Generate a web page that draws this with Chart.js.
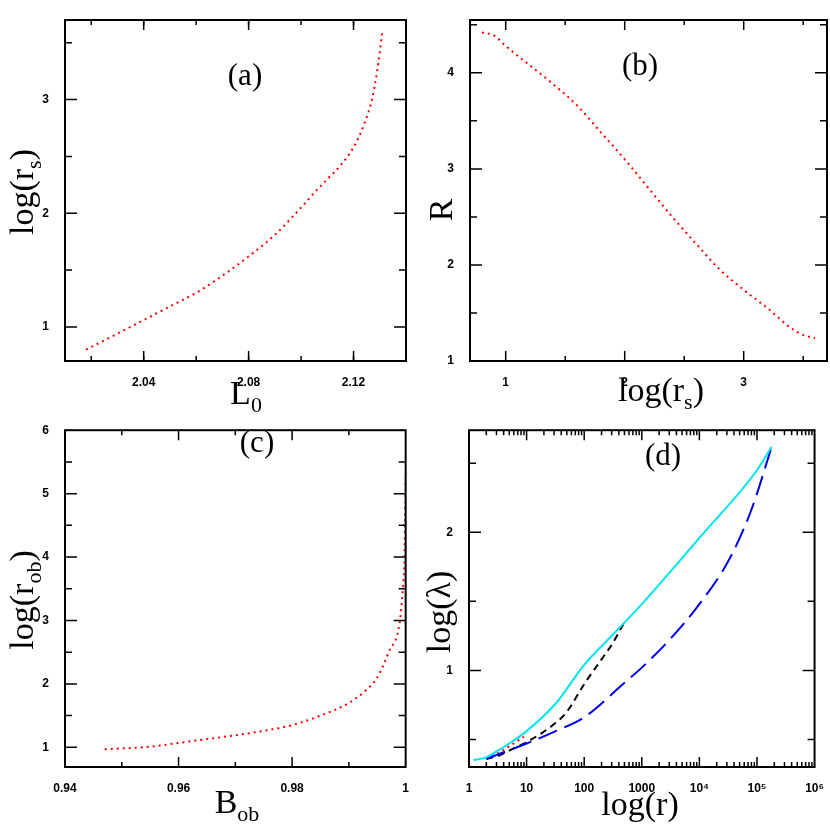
<!DOCTYPE html>
<html><head><meta charset="utf-8">
<script src="https://cdn.jsdelivr.net/npm/chart.js@4"></script>
<style>
body{margin:0;background:#fff;width:830px;height:830px;position:relative;overflow:hidden}
.p{position:absolute;width:415px;height:415px}
</style></head><body>
<div class="p" style="left:0;top:0"><canvas id="ca"></canvas></div>
<div class="p" style="left:415px;top:0"><canvas id="cb"></canvas></div>
<div class="p" style="left:0;top:415px"><canvas id="cc"></canvas></div>
<div class="p" style="left:415px;top:415px"><canvas id="cd"></canvas></div>
<script>
// ---- data ----
const aL0 = [2.018,2.03,2.04,2.05,2.06,2.07,2.08,2.09,2.10,2.105,2.11,2.115,2.12,2.124,2.127,2.129,2.131];
const aLogRs = [0.80,0.94,1.06,1.18,1.30,1.45,1.62,1.81,2.05,2.18,2.30,2.42,2.58,2.78,3.0,3.25,3.60];
const bLogRs = [0.8,0.9,1.0,1.2,1.4,1.6,1.8,2.0,2.2,2.4,2.6,2.8,3.0,3.2,3.4,3.5,3.6];
const bR = [4.42,4.39,4.28,4.08,3.88,3.66,3.38,3.10,2.80,2.50,2.22,1.95,1.74,1.55,1.34,1.27,1.24];
const cBob = [0.947,0.955,0.96,0.965,0.97,0.975,0.98,0.985,0.99,0.993,0.995,0.997,0.999,0.9995,0.9998,1.0];
const cLogRob = [0.97,1.01,1.07,1.13,1.19,1.26,1.35,1.50,1.70,1.90,2.10,2.50,3.00,3.50,4.00,5.25];
const dCyanR = [1.2,2,3.2,5,10,32,100,316,1000,10000,100000,180000];
const dCyanL = [0.35,0.37,0.42,0.47,0.56,0.76,1.04,1.26,1.48,1.96,2.45,2.62];
const dBlackR = [2,3.2,6.3,10,32,50,100,200,316,500];
const dBlackL = [0.36,0.38,0.44,0.48,0.62,0.70,0.90,1.08,1.20,1.35];
const dBlueR = [2,10,32,100,500,1000,3162,10000,31623,79433,180000];
const dBlueL = [0.36,0.47,0.56,0.66,0.91,1.02,1.23,1.48,1.79,2.16,2.62];
const dRedR = [2,3.2,5,9];
const dRedL = [0.36,0.40,0.45,0.52];
const aXTicks=[2.04,2.08,2.12], aYTicks=[1,2,3];
const bXTicks=[1,2,3], bYTicks=[1,2,3,4];
const cXTicks=[0.94,0.96,0.98,1], cYTicks=[1,2,3,4,5,6];
const dXTicks=[1,10,100,1000,1e4,1e5,1e6], dXLabels=['1','10','100','1000','10⁴','10⁵','10⁶'];
const dYTicks=[1,2];

function pts(xs,ys){return xs.map((x,i)=>({x,y:ys[i]}));}
function range(a,b,s){const r=[];for(let v=a;v<=b+1e-9;v+=s)r.push(+v.toFixed(6));return r;}

const framePlugin={id:'frame',afterDraw(chart,args,o){
  const ctx=chart.ctx,A=chart.chartArea,xs=chart.scales.x,ys=chart.scales.y;
  ctx.save();ctx.strokeStyle='#000';ctx.lineWidth=2;
  ctx.strokeRect(A.left,A.top,A.right-A.left,A.bottom-A.top);
  ctx.lineWidth=1.5;
  const tk=(vals,len,isX)=>vals.forEach(v=>{
    if(isX){const p=xs.getPixelForValue(v);if(p<A.left+1||p>A.right-1)return;
      ctx.beginPath();ctx.moveTo(p,A.bottom);ctx.lineTo(p,A.bottom-len);ctx.moveTo(p,A.top);ctx.lineTo(p,A.top+len);ctx.stroke();}
    else{const p=ys.getPixelForValue(v);if(p<A.top+1||p>A.bottom-1)return;
      ctx.beginPath();ctx.moveTo(A.left,p);ctx.lineTo(A.left+len,p);ctx.moveTo(A.right,p);ctx.lineTo(A.right-len,p);ctx.stroke();}
  });
  tk(o.xMaj,10,true);tk(o.xMin,5,true);tk(o.yMaj,12,false);tk(o.yMin,7,false);
  ctx.fillStyle='#000';ctx.textBaseline='alphabetic';
  const drawParts=(parts,cx,cy,rot)=>{
    ctx.save();ctx.translate(cx,cy);if(rot)ctx.rotate(-Math.PI/2);
    let w=0;parts.forEach(p=>{ctx.font=(p[1]?'22px':'34px')+' "Liberation Serif"';w+=ctx.measureText(p[0]).width;});
    let x=-w/2;ctx.textAlign='left';
    parts.forEach(p=>{ctx.font=(p[1]?'22px':'34px')+' "Liberation Serif"';ctx.fillText(p[0],x,p[1]?8:0);x+=ctx.measureText(p[0]).width;});
    ctx.restore();};
  drawParts(o.xTitle,o.xt[0],o.xt[1],false);
  drawParts(o.yTitle,o.yt[0],o.yt[1],true);
  ctx.font='31px "Liberation Serif"';ctx.textAlign='center';ctx.fillText(o.label,o.lp[0],o.lp[1]);
  ctx.restore();}};

function make(id,datasets,sc,fr,pad){
  const tf={family:'Liberation Sans',size:12,weight:'bold'};
  new Chart(document.getElementById(id),{type:'line',data:{datasets},
    plugins:[framePlugin],
    options:{responsive:false,animation:false,events:[],
      layout:{padding:{top:pad[0],right:pad[1],left:0,bottom:0}},
      elements:{point:{radius:0},line:{cubicInterpolationMode:'monotone',fill:false}},
      plugins:{legend:{display:false},tooltip:{enabled:false},frame:fr},
      scales:{
        x:{type:sc.xtype||'linear',min:sc.x[0],max:sc.x[1],border:{display:false},grid:{display:false},
          afterBuildTicks:s=>{s.ticks=sc.xt.map(v=>({value:v}));},
          afterFit:s=>{s.height=pad[2];},
          ticks:{font:tf,color:'#000',padding:6,maxRotation:0,autoSkip:false,
            callback:(v,i)=>sc.xl?sc.xl[sc.xt.indexOf(v)]:String(v)}},
        y:{min:sc.y[0],max:sc.y[1],border:{display:false},grid:{display:false},
          afterBuildTicks:s=>{s.ticks=sc.yt.map(v=>({value:v}));},
          afterFit:s=>{s.width=pad[3];},
          ticks:{font:tf,color:'#000',padding:8,autoSkip:false,callback:v=>String(v)}}}}});
}
function sizeCanvas(id){const c=document.getElementById(id);c.width=415;c.height=415;c.style.width='415px';c.style.height='415px';}
['ca','cb','cc','cd'].forEach(sizeCanvas);

const red={borderColor:'#ff0000',borderWidth:2,borderDash:[2,4]};
make('ca',[{...red,data:pts(aL0,aLogRs)}],
  {x:[2.010,2.140],xt:aXTicks,y:[0.70,3.70],yt:aYTicks},
  {xMaj:aXTicks,xMin:range(2.02,2.14,0.02),yMaj:aYTicks,yMin:[1.5,2.5,3.5],
   xTitle:[['L',0],['0',1]],xt:[246,404],yTitle:[['log(r',0],['s',1],[')',0]],yt:[33,192],label:'(a)',lp:[245,85]},
  [20,9,54,65]);
make('cb',[{...red,data:pts(bLogRs,bR)}],
  {x:[0.70,3.70],xt:bXTicks,y:[1,4.55],yt:bYTicks},
  {xMaj:bXTicks,xMin:[1.5,2.5,3.5],yMaj:bYTicks,yMin:[1.5,2.5,3.5,4.5],
   xTitle:[['log(r',0],['s',1],[')',0]],xt:[246,401],yTitle:[['R',0]],yt:[37,210],label:'(b)',lp:[225,75]},
  [20,3,54,55]);
make('cc',[{...red,data:pts(cBob,cLogRob)}],
  {x:[0.94,1.0],xt:cXTicks,y:[0.69,6],yt:cYTicks},
  {xMaj:cXTicks,xMin:[0.95,0.97,0.99],yMaj:cYTicks,yMin:[1.5,2.5,3.5,4.5,5.5],
   xTitle:[['B',0],['ob',1]],xt:[237,398],yTitle:[['log(r',0],['ob',1],[')',0]],yt:[33,185],label:'(c)',lp:[257,37]},
  [10,9,63,65]);
const dMin=[];for(let e=0;e<6;e++)for(let k=2;k<=9;k++)dMin.push(k*Math.pow(10,e));
make('cd',[
  {borderColor:'#00e5ee',borderWidth:2,data:pts(dCyanR,dCyanL)},
  {borderColor:'#0000ee',borderWidth:2,borderDash:[20,8],data:pts(dBlueR,dBlueL)},
  {borderColor:'#000',borderWidth:2,borderDash:[7,5],data:pts(dBlackR,dBlackL)},
  {...red,data:pts(dRedR,dRedL)}],
  {xtype:'logarithmic',x:[1,1e6],xt:dXTicks,xl:dXLabels,y:[0.30,2.74],yt:dYTicks},
  {xMaj:dXTicks,xMin:dMin,yMaj:dYTicks,yMin:[0.5,1.5,2.5],
   xTitle:[['log(r)',0]],xt:[225,400],yTitle:[['log(λ)',0]],yt:[35,197],label:'(d)',lp:[248,50]},
  [11,3,63,54]);
</script></body></html>
